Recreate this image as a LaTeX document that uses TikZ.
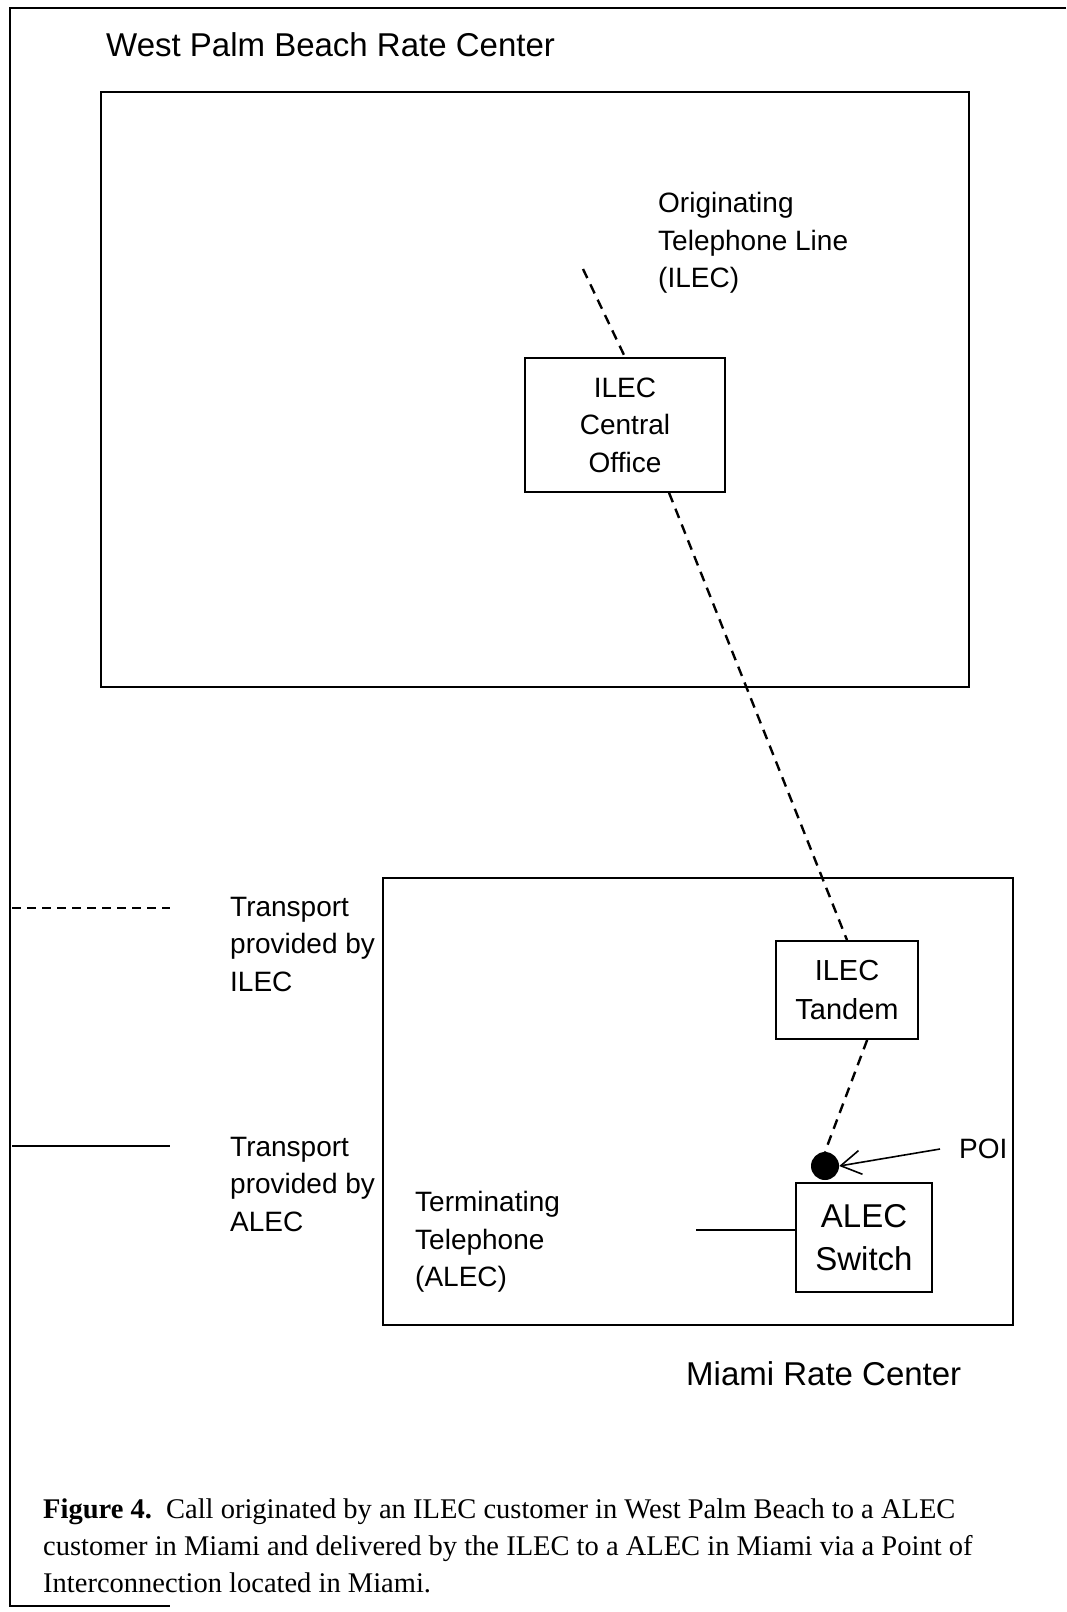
\documentclass[tikz,border=0pt]{standalone}
\usepackage{fontspec}
\setmainfont{Liberation Sans}
\newfontfamily\captionfont{Liberation Serif}
\usetikzlibrary{arrows.meta, positioning}

\begin{document}
\begin{tikzpicture}[
		x=1pt, y=-1pt,
		areabox/.style={draw, line width=2pt, anchor=north west, inner sep=0pt},
		switchbox/.style={draw, line width=1.8pt, align=center, inner sep=0pt},
		textlabel/.style={align=left, inner sep=0pt, anchor=west, font=\fontsize{28}{37.5}\selectfont},
		ilecline/.style={line width=2.4pt, dash pattern=on 10pt off 7pt},
		alecline/.style={line width=2pt},
		pointer/.style={-{Straight Barb[length=20pt, width=24pt]}, line width=1.6pt}
	]
	\useasboundingbox (0,0) rectangle (1066,1612);
	% page frame
	\draw[line width=2.8pt] (1066,8) -- (10,8) -- (10,1606) -- (170,1606);

	% rate centers
	\node[areabox, minimum width=868pt, minimum height=595pt] (wpb) at (100,91) {};
	\node[areabox, minimum width=630pt, minimum height=447pt] (miami) at (382,877) {};
	\node[textlabel, font=\fontsize{33}{40}\selectfont] (wpbtitle) at (106,45) {West Palm Beach Rate Center};
	\node[textlabel, font=\fontsize{33}{40}\selectfont] (miamititle) at (686,1374) {Miami Rate Center};

	% switches
	\node[switchbox, minimum width=200pt, minimum height=134pt, font=\fontsize{28}{37.5}\selectfont] (co) at (625,425) {ILEC\\Central\\Office};
	\node[switchbox, minimum width=142pt, minimum height=98pt, font=\fontsize{29}{39}\selectfont] (tandem) at (847,990) {ILEC\\Tandem};
	\node[switchbox, minimum width=136pt, minimum height=109pt, font=\fontsize{33}{43}\selectfont] (alecsw) at (864,1237.5) {ALEC\\Switch};
	\node[circle, fill, inner sep=0pt, minimum size=28pt] (poi) at (825,1166) {};

	% labels
	\node[textlabel] (origlabel) at (658,243) {Originating\\Telephone Line\\(ILEC)};
	\node[textlabel] (termlabel) at (415,1242) {Terminating\\Telephone\\(ALEC)};
	\node[textlabel] (poilabel) at (959,1149) {POI};
	\node[textlabel] (ileckey) at (230,944) {Transport\\provided by\\ILEC};
	\node[textlabel] (aleckey) at (230,1184) {Transport\\provided by\\ALEC};

	\coordinate (origline) at (583,269);
	\coordinate (termline) at (696,1230);
	\coordinate (ileckeyA) at (12,908);
	\coordinate (ileckeyB) at (170,908);
	\coordinate (aleckeyA) at (12,1146);
	\coordinate (aleckeyB) at (170,1146);

	% transport
	\draw[ilecline] (origline) -- (co.north);
	\draw[ilecline] (co.-57) -- (tandem.north);
	\draw[ilecline] (tandem.-68) -- (poi.north);
	\draw[alecline] (termline) -- (termline -| alecsw.west);
	\draw[pointer] ([xshift=-19pt]poilabel.west) -- (poi.east);

	% key
	\draw[ilecline, line width=2pt, dash pattern=on 9pt off 6pt] (ileckeyA) -- (ileckeyB);
	\draw[alecline] (aleckeyA) -- (aleckeyB);

	\node[anchor=west, align=left, inner sep=0pt, font=\captionfont\fontsize{28.5}{37}\selectfont] (caption) at (43,1546)
		{\textbf{Figure 4.}\ \ Call originated by an ILEC customer in West Palm Beach to a ALEC\\customer in Miami and delivered by the ILEC to a ALEC in Miami via a Point of\\Interconnection located in Miami.};
\end{tikzpicture}
\end{document}
